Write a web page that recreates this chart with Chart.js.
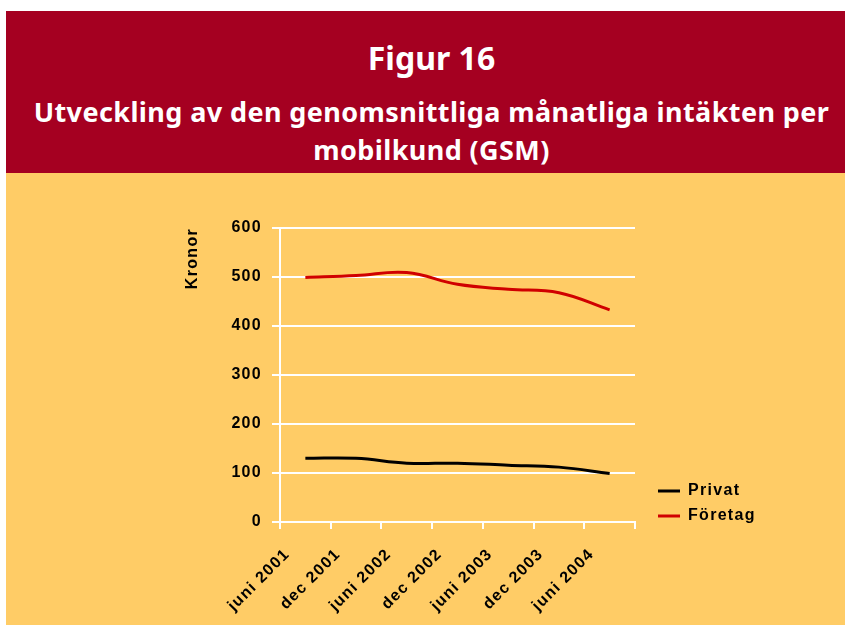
<!DOCTYPE html>
<html lang="sv">
<head>
<meta charset="UTF-8">
<title>Figur 16</title>
<script src="https://cdn.jsdelivr.net/npm/chart.js"></script>
<style>
    body { margin: 0; background: #ffffff; width: 845px; height: 625px; overflow: hidden; position: relative; }
    .header {
        position: absolute; left: 6px; top: 11px; width: 839px; height: 162px;
        background: #a50021; color: #ffffff; text-align: center;
        font-family: "Noto Sans", sans-serif; font-weight: bold;
    }
    .header .fig { position: absolute; left: 12px; right: 0; top: 27px; font-size: 32px; line-height: 40px; }
    .header .sub { position: absolute; left: 12px; right: 0; top: 82px; font-size: 27px; line-height: 38px; letter-spacing: 0.4px; }
    .panel { position: absolute; left: 6px; top: 173px; width: 839px; height: 452px; background: #ffcc66; }
</style>
</head>
<body>
<div class="header">
    <div class="fig">Figur 16</div>
    <div class="sub">Utveckling av den genomsnittliga månatliga intäkten per<br>mobilkund (GSM)</div>
</div>
<div class="panel"><canvas id="chart" width="839" height="452"></canvas></div>
<script>
    const labels = ['juni 2001', 'dec 2001', 'juni 2002', 'dec 2002', 'juni 2003', 'dec 2003', 'juni 2004'];
    const privat = [130, 130, 120, 120, 116, 112, 99];
    const foretag = [499, 503, 509, 485, 475, 468, 433];
    const yTicks = [0, 100, 200, 300, 400, 500, 600];

    const font = { family: 'Liberation Sans, Arial, sans-serif', size: 16, weight: 'bold' };

    // canvas letter spacing, Chart.js has no option for it
    const spacing = {
        id: 'spacing',
        beforeLayout(chart) { chart.ctx.letterSpacing = '1.3px'; },
        beforeDraw(chart) { chart.ctx.letterSpacing = '1.3px'; }
    };

    // put the legend to the lower right, outside the plot
    const legendPos = {
        id: 'legendPos',
        afterLayout(chart) {
            const lg = chart.legend;
            const w = lg.width, h = lg.height;
            lg.left = 643; lg.right = lg.left + w;
            lg.top = 301; lg.bottom = lg.top + h;
        }
    };

    new Chart(document.getElementById('chart'), {
        type: 'line',
        data: {
            labels: labels,
            datasets: [
                { label: 'Privat', data: privat, borderColor: '#000000', backgroundColor: '#000000',
                  borderWidth: 3, tension: 0.4, pointRadius: 0, pointStyle: 'line' },
                { label: 'Företag', data: foretag, borderColor: '#d00000', backgroundColor: '#d00000',
                  borderWidth: 3, tension: 0.4, pointRadius: 0, pointStyle: 'line' }
            ]
        },
        options: {
            responsive: false,
            animation: false,
            layout: { padding: { left: 170, top: 55, right: 210, bottom: 0 } },
            plugins: {
                tooltip: { enabled: false },
                legend: {
                    position: 'chartArea',
                    align: 'start',
                    labels: { usePointStyle: true, pointStyleWidth: 22, padding: 9, color: '#000000', font: font }
                }
            },
            scales: {
                x: {
                    offset: true,
                    grid: { offset: true, drawOnChartArea: false, color: '#ffffff', lineWidth: 2, tickLength: 7 },
                    border: { color: '#ffffff', width: 2 },
                    ticks: { autoSkip: false, minRotation: 45, maxRotation: 45, color: '#000000', font: font,
                             padding: 16, labelOffset: -18 },
                    afterFit(scale) { scale.height = 103; }
                },
                y: {
                    min: 0, max: 600,
                    afterBuildTicks(scale) { scale.ticks = yTicks.map(v => ({ value: v })); },
                    grid: { color: '#ffffff', lineWidth: 2, tickLength: 8 },
                    border: { color: '#ffffff', width: 2 },
                    ticks: { color: '#000000', font: font, padding: 10 },
                    title: { display: true, text: 'Kronor', align: 'end', color: '#000000', font: font, padding: { top: 7, bottom: 4 } },
                    afterFit(scale) { scale.width = 104; }
                }
            }
        },
        plugins: [spacing, legendPos]
    });
</script>
</body>
</html>
